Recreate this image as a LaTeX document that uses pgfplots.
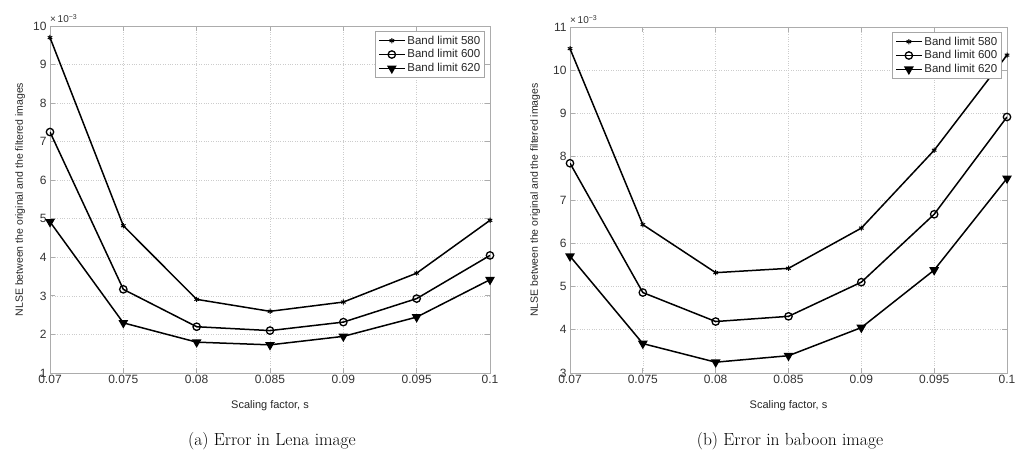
\documentclass[border=0pt]{standalone}
\usepackage{fontspec}
\usepackage{pgfplots}
\pgfplotsset{compat=1.18}
\newfontfamily\axfont{Liberation Sans}
\pgfplotsset{
  myax/.style={
    scale only axis,
    anchor=south west,
    xmin=0.07, xmax=0.1,
    xtick={0.07,0.075,0.08,0.085,0.09,0.095,0.1},
    xticklabels={0.07,0.075,0.08,0.085,0.09,0.095,0.1},
    grid=major,
    major grid style={dotted, gray!40, line width=0.6pt},
    axis line style={gray!65, line width=0.8pt},
    tick style={gray!65, line width=0.8pt},
    major tick length=5pt,
    tick label style={font=\axfont\fontsize{12}{13}\selectfont, text=black!80},
    xticklabel style={yshift=1pt},
    label style={font=\axfont\fontsize{11}{12}\selectfont, text=black!85},
    ylabel style={font=\axfont\fontsize{10.5}{12}\selectfont},
    xlabel={Scaling factor, s},
    ylabel={NLSE between the original and the filtered images},
    xlabel style={at={(axis description cs:0.5,-0.095)}, anchor=center},
    legend style={font=\axfont\fontsize{11.5}{12}\selectfont, draw=gray!70, line width=0.8pt, inner sep=2.5pt, row sep=0pt, text=black!85},
    legend cell align=left,
    legend image code/.code={\draw[mark repeat=2,mark phase=2,#1] plot coordinates {(0cm,0cm) (0.45cm,0cm) (0.9cm,0cm)};},
    every axis plot/.append style={line width=1.5pt, black},
  },
  s580/.style={mark=asterisk, mark size=2.6pt, mark options={line width=1pt}},
  s600/.style={mark=o, mark size=3.7pt, mark options={line width=1.3pt}},
  s620/.style={mark=triangle*, mark size=4.2pt, mark options={rotate=180}},
}
\begin{document}
\begin{tikzpicture}[x=1pt,y=1pt]
\useasboundingbox (0,0) rectangle (1021,466);
\begin{axis}[myax, name=A, at={(50pt,93pt)}, width=440pt, height=347pt,
  ymin=1, ymax=10, ytick={1,2,3,4,5,6,7,8,9,10},
  yticklabels={1,2,3,4,5,6,7,8,9,10},
  ylabel style={at={(axis description cs:-0.068,0.5)}, anchor=center},
  legend style={at={(axis description cs:0.989,0.986)}, anchor=north east}]
\addplot[s580] coordinates {(0.07,9.7) (0.075,4.82) (0.08,2.91) (0.085,2.6) (0.09,2.84) (0.095,3.59) (0.1,4.96)};
\addplot[s600] coordinates {(0.07,7.25) (0.075,3.17) (0.08,2.2) (0.085,2.1) (0.09,2.32) (0.095,2.93) (0.1,4.05)};
\addplot[s620] coordinates {(0.07,4.92) (0.075,2.3) (0.08,1.8) (0.085,1.73) (0.09,1.95) (0.095,2.45) (0.1,3.42)};
\legend{Band limit 580,Band limit 600,Band limit 620}
\end{axis}
\begin{axis}[myax, name=B, at={(570pt,93pt)}, width=437pt, height=346pt,
  ymin=3, ymax=11, ytick={3,4,5,6,7,8,9,10,11},
  yticklabels={3,4,5,6,7,8,9,10,11},
  ylabel style={at={(axis description cs:-0.08,0.5)}, anchor=center},
  legend style={at={(axis description cs:0.989,0.986)}, anchor=north east}]
\addplot[s580] coordinates {(0.07,10.5) (0.075,6.43) (0.08,5.32) (0.085,5.42) (0.09,6.35) (0.095,8.15) (0.1,10.35)};
\addplot[s600] coordinates {(0.07,7.85) (0.075,4.86) (0.08,4.19) (0.085,4.31) (0.09,5.1) (0.095,6.67) (0.1,8.92)};
\addplot[s620] coordinates {(0.07,5.7) (0.075,3.68) (0.08,3.25) (0.085,3.4) (0.09,4.05) (0.095,5.38) (0.1,7.5)};
\legend{Band limit 580,Band limit 600,Band limit 620}
\end{axis}
\node[anchor=south west, font=\axfont\fontsize{10}{11}\selectfont, text=black!80, inner sep=0pt] at ([yshift=3pt]A.north west) {×\,10\raisebox{0.6ex}{\fontsize{7}{8}\selectfont −3}};
\node[anchor=south west, font=\axfont\fontsize{10}{11}\selectfont, text=black!80, inner sep=0pt] at ([yshift=3pt]B.north west) {×\,10\raisebox{0.6ex}{\fontsize{7}{8}\selectfont −3}};
\node[font=\fontsize{17.5}{20}\selectfont] at (272,25) {(a) Error in Lena image};
\node[font=\fontsize{17.5}{20}\selectfont] at (790,25) {(b) Error in baboon image};
\end{tikzpicture}
\end{document}
